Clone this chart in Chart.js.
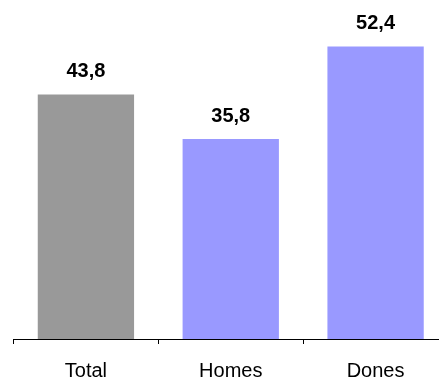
<!DOCTYPE html>
<html>
<head>
<meta charset="utf-8">
<script src="https://cdn.jsdelivr.net/npm/chart.js@4/dist/chart.umd.min.js"></script>
<style>
  html, body { margin: 0; padding: 0; background: #fff; overflow: hidden; }
  #wrap { width: 439px; height: 380px; overflow: hidden; }
</style>
</head>
<body>
<div id="wrap"><canvas id="chart" width="448" height="380"></canvas></div>
<script>
// chart data
const categories = ['Total', 'Homes', 'Dones'];
const values = [43.8, 35.8, 52.4];
const barColors = ['#999999', '#9999ff', '#9999ff'];

// draws the bold value labels above each bar (comma decimal)
const valueLabels = {
    id: 'valueLabels',
    afterDatasetsDraw(chart) {
        const ctx = chart.ctx;
        const meta = chart.getDatasetMeta(0);
        ctx.save();
        ctx.font = 'bold 20px "Liberation Sans", Arial, sans-serif';
        ctx.fillStyle = '#000';
        ctx.textAlign = 'center';
        ctx.textBaseline = 'alphabetic';
        meta.data.forEach((bar, i) => {
            const txt = values[i].toFixed(1).replace('.', ',');
            ctx.fillText(txt, bar.x, bar.y - 17);
        });
        ctx.restore();
    }
};

new Chart(document.getElementById('chart'), {
    type: 'bar',
    data: {
        labels: categories,
        datasets: [{
            data: values,
            backgroundColor: barColors,
            borderWidth: 0,
            categoryPercentage: 1,
            barPercentage: 0.665
        }]
    },
    options: {
        responsive: false,
        animation: false,
        layout: { padding: { left: 13.5, right: 0, top: 4, bottom: 0 } },
        plugins: {
            legend: { display: false },
            tooltip: { enabled: false }
        },
        scales: {
            x: {
                afterFit: s => { s.height = 41; },
                border: { display: true, color: '#000', width: 1 },
                grid: {
                    offset: true,
                    drawOnChartArea: false,
                    drawTicks: true,
                    tickLength: 5,
                    color: '#000'
                },
                ticks: {
                    color: '#000',
                    padding: 15,
                    font: { family: '"Liberation Sans", Arial, sans-serif', size: 20 }
                }
            },
            y: {
                display: false,
                min: 0,
                max: 60
            }
        }
    },
    plugins: [valueLabels]
});
</script>
</body>
</html>
